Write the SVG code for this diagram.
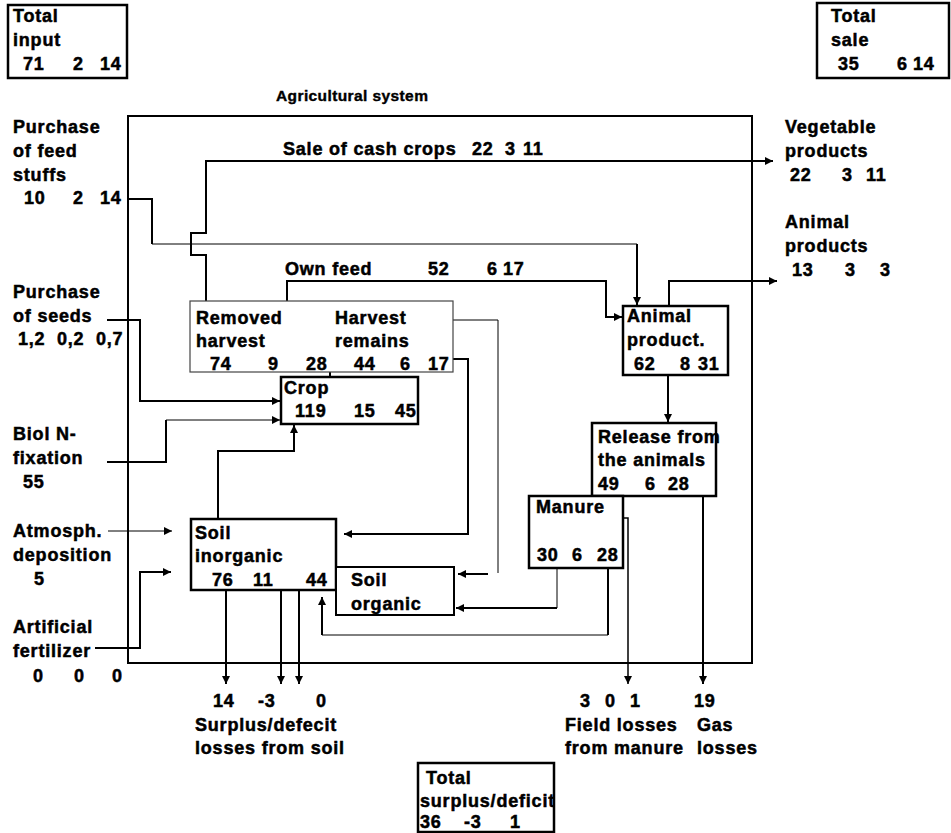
<svg xmlns="http://www.w3.org/2000/svg" width="951" height="833" viewBox="0 0 951 833">
<style>
text{font-family:"Liberation Sans",Arial,sans-serif;font-weight:bold;font-size:18px;letter-spacing:0.8px;fill:#000;stroke:#000;stroke-width:0.5}
.title{font-size:15.5px;letter-spacing:0.4px;stroke-width:0.4}
.box{fill:#fff;stroke:#000;stroke-width:2.5}
.thinbox{fill:#fff;stroke:#444;stroke-width:1.2}
.c{fill:none;stroke:#000;stroke-width:2}
.t{fill:none;stroke:#000;stroke-width:1}
.sys{fill:none;stroke:#000;stroke-width:2}
</style>
<defs>
<marker id="ah" viewBox="0 0 10 10" refX="10" refY="5" markerWidth="9" markerHeight="8" markerUnits="userSpaceOnUse" orient="auto"><path d="M0,0 L10,5 L0,10 z" fill="#000"/></marker>
</defs>
<rect width="951" height="833" fill="#fff"/>

<g id="system">
<rect class="sys" x="128" y="116" width="624" height="547"/>
<text class="title" x="276" y="101">Agricultural system</text>
</g>

<g id="connectors">
<path class="c" d="M127,199 H152 V244"/>
<path class="t" d="M152,244 H637"/>
<path class="c" d="M637,244 V305" marker-end="url(#ah)"/>
<path class="c" d="M206,301 V255 H191 V233 H206 V161 H773" marker-end="url(#ah)"/>
<path class="c" d="M287,301 V281 H606 V317 H622" marker-end="url(#ah)"/>
<path class="c" d="M669,306 V281 H777" marker-end="url(#ah)"/>
<path class="c" d="M668,375 V422" marker-end="url(#ah)"/>
<path class="c" d="M703,496 V684" marker-end="url(#ah)"/>
<path class="c" style="stroke-width:1.5" d="M623,518 H628 V684" marker-end="url(#ah)"/>
<path class="t" d="M557,568 V608"/>
<path class="c" d="M557,608 H456" marker-end="url(#ah)"/>
<path class="c" d="M608,568 V635"/>
<path class="t" d="M608,635 H322"/>
<path class="c" d="M322,635 V597" marker-end="url(#ah)"/>
<path class="c" d="M453,359 H468 V534 H344" marker-end="url(#ah)"/>
<path class="t" d="M453,320 H498 V573"/>
<path class="c" d="M488,574 H458" marker-end="url(#ah)"/>
<path class="c" d="M330,303 V377"/>
<path class="c" d="M107,320 H140 V401 H280" marker-end="url(#ah)"/>
<path class="c" d="M107,462 H166 V420"/>
<path class="t" d="M166,420 H280" marker-end="url(#ah)"/>
<path class="c" d="M218,519 V451 H294 V425" marker-end="url(#ah)"/>
<path class="t" d="M108,531 H172" marker-end="url(#ah)"/>
<path class="c" d="M95,648 H140 V572 H171" marker-end="url(#ah)"/>
<path class="c" d="M226,590 V684" marker-end="url(#ah)"/>
<path class="c" d="M281,590 V684" marker-end="url(#ah)"/>
<path class="c" d="M299,590 V684" marker-end="url(#ah)"/>
</g>

<g id="total-input">
<rect class="box" x="8" y="5" width="119" height="73"/>
<text x="13" y="22">Total</text>
<text x="13" y="46">input</text>
<text y="70"><tspan x="23">71</tspan><tspan x="73">2</tspan><tspan x="100">14</tspan></text>
</g>

<g id="total-sale">
<rect class="box" x="817" y="3" width="132" height="75"/>
<text x="831" y="22">Total</text>
<text x="831" y="46">sale</text>
<text y="70"><tspan x="838">35</tspan><tspan x="897">6</tspan><tspan x="913">14</tspan></text>
</g>

<g id="purchase-feed">
<text x="13" y="133">Purchase</text>
<text x="13" y="157">of feed</text>
<text x="13" y="181">stuffs</text>
<text y="204"><tspan x="24">10</tspan><tspan x="73">2</tspan><tspan x="100">14</tspan></text>
</g>

<g id="purchase-seeds">
<text x="13" y="298">Purchase</text>
<text x="13" y="322">of seeds</text>
<text y="345"><tspan x="18">1,2</tspan><tspan x="57">0,2</tspan><tspan x="96">0,7</tspan></text>
</g>

<g id="biol-n">
<text x="13" y="440">Biol N-</text>
<text x="13" y="464">fixation</text>
<text x="23" y="488">55</text>
</g>

<g id="atmosph">
<text x="13" y="537">Atmosph.</text>
<text x="13" y="561">deposition</text>
<text x="34" y="585">5</text>
</g>

<g id="fertilizer">
<text x="13" y="633">Artificial</text>
<text x="13" y="657">fertilizer</text>
<text y="682"><tspan x="33">0</tspan><tspan x="74">0</tspan><tspan x="112">0</tspan></text>
</g>

<g id="vegetable-products">
<text x="785" y="133">Vegetable</text>
<text x="785" y="157">products</text>
<text y="181"><tspan x="790">22</tspan><tspan x="842">3</tspan><tspan x="866">11</tspan></text>
</g>

<g id="animal-products">
<text x="785" y="228">Animal</text>
<text x="785" y="252">products</text>
<text y="276"><tspan x="792">13</tspan><tspan x="845">3</tspan><tspan x="880">3</tspan></text>
</g>

<g id="sale-cash-crops">
<text x="283" y="155">Sale of cash crops</text>
<text y="155"><tspan x="472">22</tspan><tspan x="505">3</tspan><tspan x="523">11</tspan></text>
</g>

<g id="own-feed">
<text x="285" y="275">Own feed</text>
<text y="275"><tspan x="428">52</tspan><tspan x="487">6</tspan><tspan x="503">17</tspan></text>
</g>

<g id="harvest">
<rect class="thinbox" x="190" y="301" width="263" height="71"/>
<text x="196" y="324">Removed</text>
<text x="196" y="347">harvest</text>
<text y="370"><tspan x="210">74</tspan><tspan x="268">9</tspan><tspan x="306">28</tspan></text>
<text x="335" y="324">Harvest</text>
<text x="335" y="347">remains</text>
<text y="370"><tspan x="354">44</tspan><tspan x="400">6</tspan><tspan x="428">17</tspan></text>
</g>

<g id="crop">
<rect class="box" x="281" y="377" width="137" height="47"/>
<text x="284" y="394">Crop</text>
<text y="417"><tspan x="295">119</tspan><tspan x="354">15</tspan><tspan x="395">45</tspan></text>
</g>

<g id="animal-product">
<rect class="box" x="623" y="306" width="105" height="69"/>
<text x="627" y="322">Animal</text>
<text x="627" y="346">product.</text>
<text y="370"><tspan x="634">62</tspan><tspan x="680">8</tspan><tspan x="698">31</tspan></text>
</g>

<g id="release">
<rect class="box" x="592" y="423" width="124" height="73"/>
<text x="598" y="443">Release from</text>
<text x="598" y="466">the animals</text>
<text y="490"><tspan x="598">49</tspan><tspan x="645">6</tspan><tspan x="668">28</tspan></text>
</g>

<g id="manure">
<rect class="box" x="529" y="496" width="94" height="72"/>
<text x="536" y="513">Manure</text>
<text y="561"><tspan x="537">30</tspan><tspan x="572">6</tspan><tspan x="597">28</tspan></text>
</g>

<g id="soil-inorganic">
<rect class="box" x="191" y="519" width="145" height="71"/>
<text x="195" y="539">Soil</text>
<text x="195" y="562">inorganic</text>
<text y="586"><tspan x="212">76</tspan><tspan x="253">11</tspan><tspan x="306">44</tspan></text>
</g>

<g id="soil-organic">
<rect class="box" style="stroke-width:2" x="336" y="567" width="118" height="48"/>
<text x="351" y="586">Soil</text>
<text x="351" y="610">organic</text>
</g>

<g id="soil-losses">
<text y="707"><tspan x="213">14</tspan><tspan x="258">-3</tspan><tspan x="316">0</tspan></text>
<text x="195" y="731">Surplus/defecit</text>
<text x="195" y="754">losses from soil</text>
</g>

<g id="field-losses">
<text y="707"><tspan x="580">3</tspan><tspan x="605">0</tspan><tspan x="630">1</tspan></text>
<text x="565" y="731">Field losses</text>
<text x="565" y="754">from manure</text>
</g>

<g id="gas-losses">
<text x="694" y="707">19</text>
<text x="697" y="731">Gas</text>
<text x="697" y="754">losses</text>
</g>

<g id="total-surplus">
<rect class="box" x="418" y="763" width="136" height="69"/>
<text x="426" y="784">Total</text>
<text x="420" y="807">surplus/deficit</text>
<text y="828"><tspan x="420">36</tspan><tspan x="464">-3</tspan><tspan x="510">1</tspan></text>
</g>
</svg>
